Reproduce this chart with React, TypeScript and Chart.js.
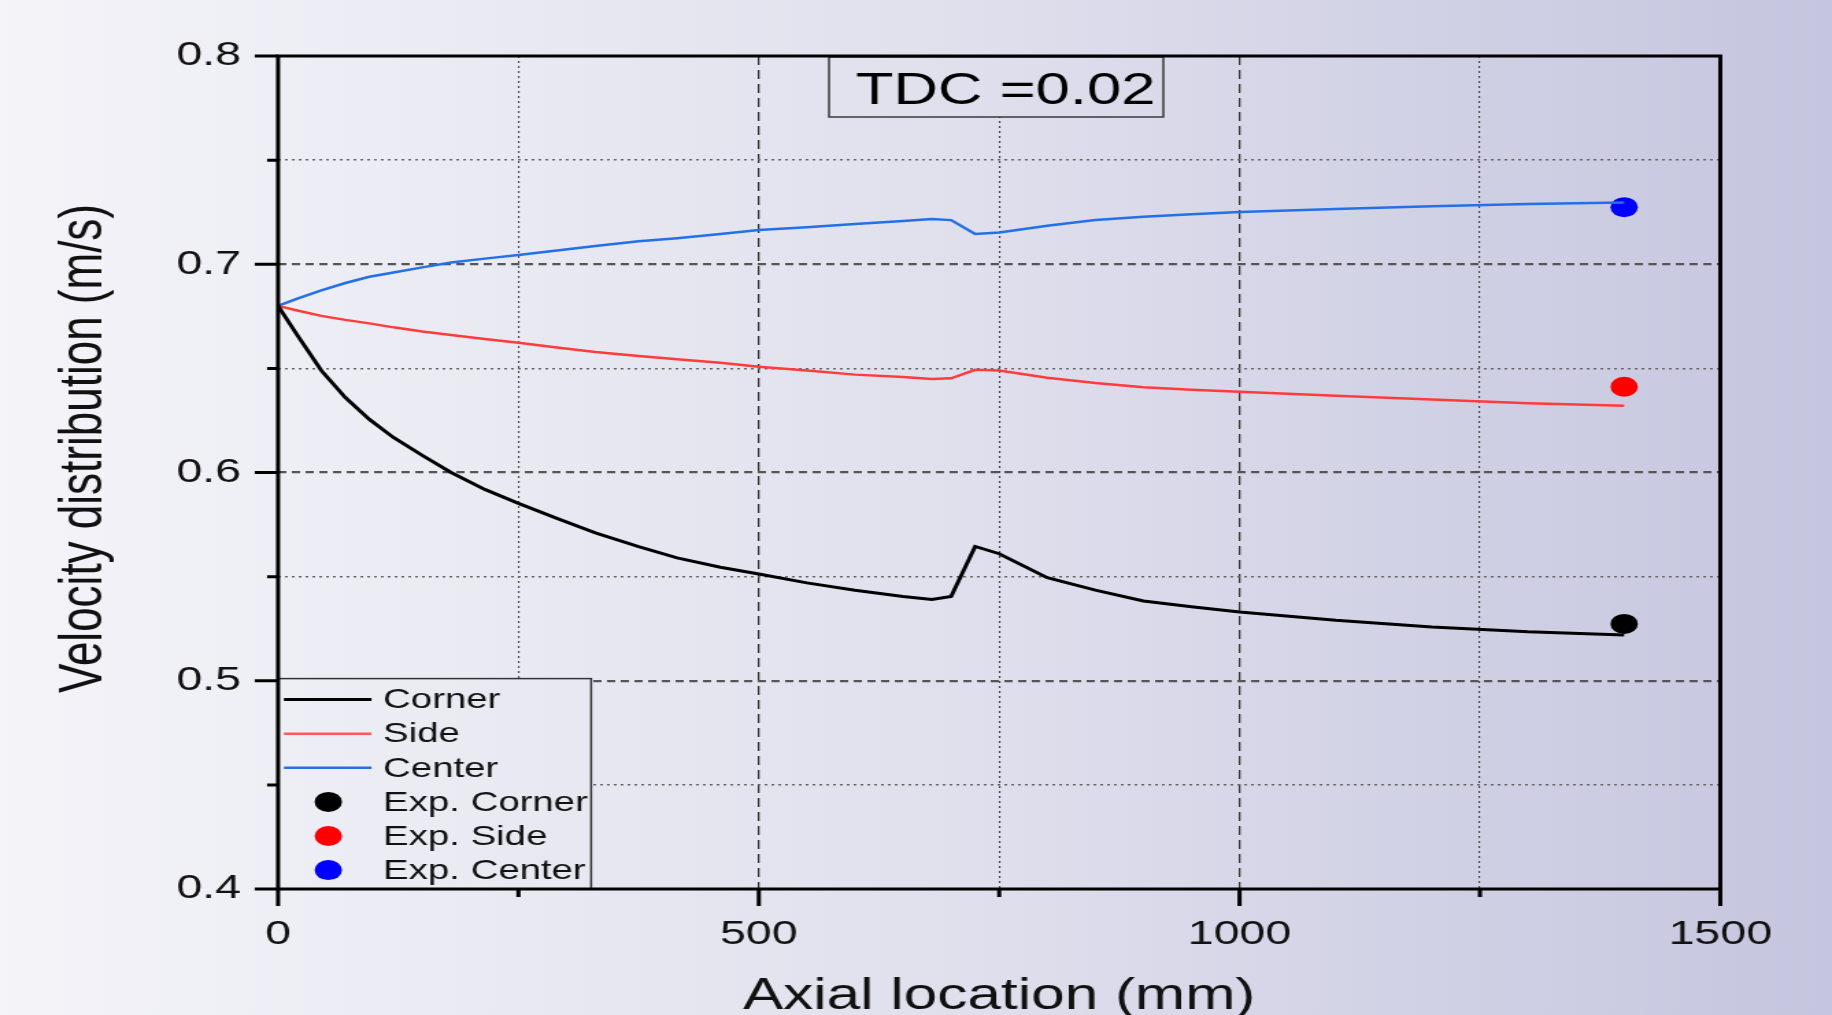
import React, { useEffect, useRef } from 'react';
import { Chart, registerables } from 'chart.js';

Chart.register(...registerables);

// ---- data ----
const axialLocation = [0, 20, 45, 70, 95, 120, 150, 180, 215, 250, 290, 330, 375, 415, 460, 500, 550, 600, 650, 680, 700, 725, 750, 800, 850, 900, 950, 1000, 1100, 1200, 1300, 1400];
const cornerVelocity = [0.680, 0.666, 0.649, 0.636, 0.6255, 0.6168, 0.6082, 0.600, 0.5919, 0.5852, 0.578, 0.571, 0.5644, 0.559, 0.5545, 0.5513, 0.547, 0.5435, 0.5405, 0.539, 0.5405, 0.5645, 0.561, 0.5495, 0.5435, 0.5383, 0.5355, 0.533, 0.529, 0.5258, 0.5235, 0.522];
const sideVelocity = [0.680, 0.6778, 0.6752, 0.6733, 0.6716, 0.6697, 0.6677, 0.666, 0.6641, 0.6623, 0.660, 0.6579, 0.6559, 0.6544, 0.6527, 0.6508, 0.649, 0.647, 0.6458, 0.6449, 0.6452, 0.6493, 0.649, 0.6455, 0.643, 0.6409, 0.6397, 0.6388, 0.6368, 0.635, 0.6333, 0.632];
const centerVelocity = [0.680, 0.6835, 0.6875, 0.691, 0.694, 0.696, 0.6985, 0.7008, 0.7027, 0.7044, 0.7066, 0.7088, 0.711, 0.7125, 0.7145, 0.7164, 0.7178, 0.7193, 0.7208, 0.7217, 0.7212, 0.7145, 0.7152, 0.7185, 0.7212, 0.7228, 0.724, 0.7251, 0.7265, 0.7278, 0.7289, 0.7296];
const expLocation = [1400];
const expCorner = [0.5273];
const expSide = [0.6412];
const expCenter = [0.7274];

const seriesLabels = ['Corner', 'Side', 'Center', 'Exp. Corner', 'Exp. Side', 'Exp. Center'];
const xMajorTicks = [0, 500, 1000, 1500];
const yMajorTicks = ['0.4', '0.5', '0.6', '0.7', '0.8'];
const annotationText = 'TDC =0.02';
const xTitle = 'Axial location (mm)';
const yTitle = 'Velocity distribution (m/s)';

// ---- geometry ----
const PAGE_W = 1832;
const PAGE_H = 1015;
const STRETCH = 1.37;
const W = Math.round(PAGE_W / STRETCH);
const H = PAGE_H;
const FONT = '"Liberation Sans", Arial, sans-serif';

const toPts = (xs: number[], ys: number[]) => xs.map((x, i) => ({ x, y: ys[i] }));

function bgGradient(ctx: CanvasRenderingContext2D, w: number) {
  const g = ctx.createLinearGradient(0, 0, w, 0);
  g.addColorStop(0, '#f4f4f9');
  g.addColorStop(0.5, '#e1e1ee');
  g.addColorStop(1, '#c5c5df');
  return g;
}

const isMajorY = (v: number) => yMajorTicks.includes(v.toFixed(2).replace(/0$/, ''));
const isMajorX = (v: number) => xMajorTicks.includes(Math.round(v));
const near = (a: number, b: number) => Math.abs(a - b) < 1e-6;

const decorPlugin = {
  id: 'decor',
  beforeDraw(chart: any) {
    const { ctx, width, height } = chart;
    ctx.save();
    ctx.fillStyle = bgGradient(ctx, width);
    ctx.fillRect(0, 0, width, height);
    ctx.restore();
  },
  afterDatasetsDraw(chart: any) {
    const { ctx, chartArea: a, scales } = chart;
    const xs = scales.x;
    const ys = scales.y;
    const bg = bgGradient(ctx, chart.width);
    ctx.save();

    // annotation box
    ctx.fillStyle = bg;
    ctx.fillRect(605, a.top + 1, 244, 60);
    ctx.strokeStyle = '#3a3a3a';
    ctx.lineWidth = 1.5;
    ctx.strokeRect(605, a.top + 1, 244, 60);
    ctx.fillStyle = '#000';
    ctx.font = `45px ${FONT}`;
    ctx.textAlign = 'left';
    ctx.textBaseline = 'alphabetic';
    ctx.fillText(annotationText, 624.5, 103.5);

    // legend
    const lx = a.left;
    const lr = 431.4;
    const lt = 678.6;
    ctx.fillStyle = bg;
    ctx.fillRect(lx, lt, lr - lx, a.bottom - lt);
    ctx.strokeStyle = '#333';
    ctx.lineWidth = 1.5;
    ctx.strokeRect(lx, lt, lr - lx, a.bottom - lt);
    ctx.font = `28px ${FONT}`;
    ctx.textBaseline = 'middle';
    chart.data.datasets.forEach((ds: any, i: number) => {
      const cy = 699.6 + i * 34.1;
      if (ds.showLine) {
        ctx.strokeStyle = ds.legendColor || ds.borderColor;
        ctx.lineWidth = ds.borderWidth;
        ctx.beginPath();
        ctx.moveTo(207.2, cy);
        ctx.lineTo(271.1, cy);
        ctx.stroke();
      } else {
        ctx.fillStyle = ds.pointBackgroundColor;
        ctx.beginPath();
        ctx.arc(239.6, cy, 10, 0, Math.PI * 2);
        ctx.fill();
      }
      ctx.fillStyle = '#111';
      ctx.fillText(ds.label, 279.6, cy + 1);
    });

    // frame
    ctx.strokeStyle = '#000';
    ctx.lineWidth = 3;
    ctx.strokeRect(a.left, a.top, a.right - a.left, a.bottom - a.top);

    // tick marks (major/minor)
    ctx.lineWidth = 3;
    ctx.beginPath();
    xs.ticks.forEach((t: any) => {
      const px = xs.getPixelForValue(t.value);
      const len = isMajorX(t.value) ? 17 : 8;
      ctx.moveTo(px, a.bottom);
      ctx.lineTo(px, a.bottom + len);
    });
    ys.ticks.forEach((t: any) => {
      const py = ys.getPixelForValue(t.value);
      const len = isMajorY(t.value) ? 17 : 8;
      ctx.moveTo(a.left, py);
      ctx.lineTo(a.left - len, py);
    });
    ctx.stroke();

    // y title
    ctx.translate(62, 448.5);
    ctx.rotate(-Math.PI / 2);
    ctx.fillStyle = '#111';
    ctx.font = `44px ${FONT}`;
    ctx.textAlign = 'center';
    ctx.textBaseline = 'middle';
    ctx.fillText(yTitle, 0, 0);
    ctx.restore();
  },
};

export default function App() {
  const ref = useRef<HTMLCanvasElement>(null);

  useEffect(() => {
    const canvas = ref.current;
    if (!canvas) return;
    const chart = new Chart(canvas, {
      type: 'scatter',
      data: {
        datasets: [
          { label: seriesLabels[0], data: toPts(axialLocation, cornerVelocity), showLine: true, borderColor: '#000000', borderWidth: 3, pointRadius: 0, tension: 0 },
          { label: seriesLabels[1], data: toPts(axialLocation, sideVelocity), showLine: true, borderColor: '#ff3c3c', legendColor: '#ff5a5a', borderWidth: 2.5, pointRadius: 0, tension: 0 },
          { label: seriesLabels[2], data: toPts(axialLocation, centerVelocity), showLine: true, borderColor: '#2470e6', borderWidth: 2.5, pointRadius: 0, tension: 0 },
          { label: seriesLabels[3], data: toPts(expLocation, expCorner), showLine: false, pointRadius: 10, pointBackgroundColor: '#000000', pointBorderWidth: 0, borderColor: '#000000' },
          { label: seriesLabels[4], data: toPts(expLocation, expSide), showLine: false, pointRadius: 10, pointBackgroundColor: '#ff0000', pointBorderWidth: 0, borderColor: '#ff0000' },
          { label: seriesLabels[5], data: toPts(expLocation, expCenter), showLine: false, pointRadius: 10, pointBackgroundColor: '#0000ff', pointBorderWidth: 0, borderColor: '#0000ff' },
        ] as any,
      },
      options: {
        responsive: false,
        animation: false,
        devicePixelRatio: 1,
        layout: { padding: { left: 0, right: W - 1720 / STRETCH, top: 56, bottom: 0 } },
        plugins: { legend: { display: false }, tooltip: { enabled: false } },
        scales: {
          x: {
            type: 'linear',
            min: 0,
            max: 1500,
            ticks: {
              stepSize: 250,
              autoSkip: false,
              maxRotation: 0,
              padding: 25,
              color: '#111',
              font: { family: FONT, size: 34 },
              callback: (v: any) => (isMajorX(Number(v)) ? String(Math.round(Number(v))) : ''),
            },
            grid: {
              drawTicks: false,
              color: (c: any) => {
                const v = c.tick ? c.tick.value : 0;
                if (near(v, 0) || near(v, 1500)) return 'rgba(0,0,0,0)';
                return isMajorX(v) ? '#333' : '#444';
              },
              lineWidth: (c: any) => (c.tick && isMajorX(c.tick.value) ? 1.3 : 1.1),
            },
            border: {
              display: false,
              dash: (c: any) => (c.tick ? (isMajorX(c.tick.value) ? [9, 5] : [2, 3]) : []),
            },
            title: {
              display: true,
              text: xTitle,
              color: '#111',
              font: { family: FONT, size: 44 },
              padding: { top: 0, bottom: -7.8 },
            },
            afterFit: (s: any) => { s.height = H - 889; },
          } as any,
          y: {
            type: 'linear',
            min: 0.4,
            max: 0.8,
            ticks: {
              stepSize: 0.05,
              autoSkip: false,
              padding: 27,
              color: '#111',
              font: { family: FONT, size: 34 },
              callback: (v: any) => (isMajorY(Number(v)) ? Number(v).toFixed(1) : ''),
            },
            grid: {
              drawTicks: false,
              color: (c: any) => {
                const v = c.tick ? c.tick.value : 0;
                if (near(v, 0.4) || near(v, 0.8)) return 'rgba(0,0,0,0)';
                return isMajorY(v) ? '#555' : '#666';
              },
              lineWidth: (c: any) => (c.tick && isMajorY(c.tick.value) ? 2.2 : 1.5),
            },
            border: {
              display: false,
              dash: (c: any) => (c.tick ? (isMajorY(c.tick.value) ? [6, 4] : [2, 3]) : []),
            },
            afterFit: (s: any) => { s.width = 278 / STRETCH; },
          } as any,
        },
      },
      plugins: [decorPlugin],
    });
    return () => chart.destroy();
  }, []);

  return (
    <div
      style={{
        position: 'fixed',
        left: 0,
        top: 0,
        width: PAGE_W,
        height: PAGE_H,
        overflow: 'hidden',
        background: 'linear-gradient(to right, #f4f4f9, #e1e1ee, #c5c5df)',
      }}
    >
      <canvas
        ref={ref}
        width={W}
        height={H}
        style={{ width: `${PAGE_W}px`, height: `${PAGE_H}px`, display: 'block' }}
      />
    </div>
  );
}
